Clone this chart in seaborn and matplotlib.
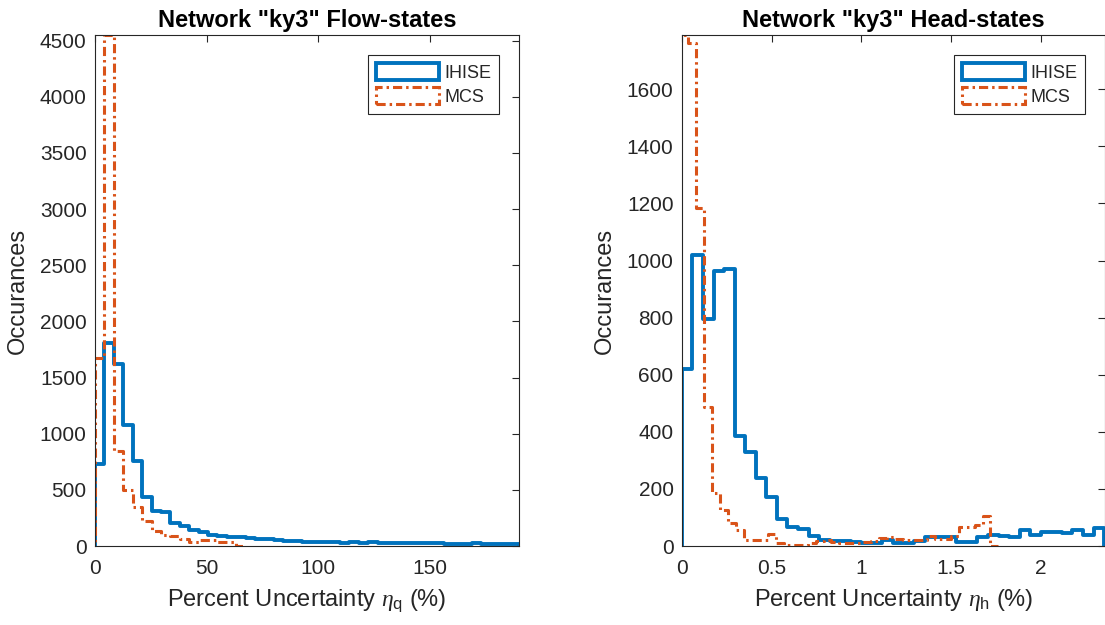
import numpy as np
import pandas as pd
import matplotlib
matplotlib.use("Agg")
import matplotlib.pyplot as plt
from matplotlib.patches import Patch
import seaborn as sns

# ---- data: histogram counts per bin ----
# Flow-states (percent uncertainty eta_q)
flow_bin_start = 0.0
flow_bin_width = 190.0 / 45
flow_ihise = [730, 1810, 1620, 1075, 760, 440, 315, 305, 205, 175,
              145, 125, 100, 85, 80, 80, 70, 62, 60, 52,
              45, 42, 38, 36, 38, 32, 30, 32, 28, 35,
              30, 28, 30, 26, 24, 25, 26, 22, 20, 22,
              25, 18, 18, 16, 14]
flow_mcs = [1675, 4550, 850, 500, 350, 225, 130, 100, 85, 65,
            40, 55, 50, 40, 35]

# Head-states (percent uncertainty eta_h)
head_ihise_start = 0.0
head_ihise_width = 2.353 / 40
head_ihise = [620, 1020, 795, 965, 972, 385, 330, 237, 170, 95,
              65, 60, 35, 22, 18, 16, 15, 10, 10, 20,
              12, 10, 18, 30, 30, 30, 14, 14, 30, 38,
              34, 32, 56, 38, 50, 50, 47, 56, 38, 62]
head_mcs_start = -0.008
head_mcs_width = 0.0443
head_mcs = [1790, 1762, 1185, 488, 185, 126, 79, 56, 21, 21,
            21, 42, 9, 5, 3, 5, 10, 18, 20, 15,
            12, 10, 12, 14, 16, 28, 30, 24, 22, 22,
            20, 34, 26, 24, 36, 66, 68, 72, 104]

labels = ["IHISE", "MCS"]
flow_xticks = [0, 50, 100, 150]
flow_yticks = list(range(0, 4501, 500))
head_xticks = [0, 0.5, 1, 1.5, 2]
head_yticks = list(range(0, 1601, 200))

BLUE = "#0072BD"
ORANGE = "#D95319"
AX_COLOR = "#262626"
DASHDOT = (0, (3.0, 1.3, 0.8, 1.3))

sns.set_theme(style="white")
plt.rcParams["font.family"] = ["Liberation Sans", "DejaVu Sans"]
plt.rcParams["mathtext.fontset"] = "custom"
plt.rcParams["mathtext.rm"] = "Liberation Sans"
plt.rcParams["mathtext.it"] = "Liberation Serif:italic"


def stairs(ax, start, width, counts, color, lw, ls):
    # pad with empty bins so the outline returns to zero at both ends
    n = len(counts)
    edges = start + width * np.arange(-1, n + 2)
    centers = 0.5 * (edges[:-1] + edges[1:])
    df = pd.DataFrame({"x": centers,
                       "w": np.array([0] + list(counts) + [0], dtype=float)})
    sns.histplot(data=df, x="x", weights="w", bins=list(edges), element="step",
                 fill=False, color=color, linewidth=lw, linestyle=ls, ax=ax)


def style_axes(ax, title, xlabel, xticks, yticks, xlim, ylim):
    ax.set_xlim(*xlim)
    ax.set_ylim(*ylim)
    ax.set_xticks(xticks)
    ax.set_yticks(yticks)
    ax.set_xticklabels([f"{t:g}" for t in xticks])
    ax.set_title(title, fontsize=17, fontweight="bold", pad=6, color="black")
    ax.set_xlabel(xlabel, fontsize=17, color=AX_COLOR, labelpad=7)
    ax.set_ylabel("Occurances", fontsize=17, color=AX_COLOR, labelpad=8)
    ax.tick_params(direction="in", length=5, width=0.8, top=True, right=True,
                   labelsize=15, colors=AX_COLOR)
    ax.tick_params(axis="x", pad=9)
    ax.tick_params(axis="y", pad=6)
    for s in ax.spines.values():
        s.set_visible(True)
        s.set_color(AX_COLOR)
        s.set_linewidth(0.8)
    handles = [
        Patch(facecolor="none", edgecolor=BLUE, linewidth=2.8, label=labels[0]),
        Patch(facecolor="none", edgecolor=ORANGE, linewidth=2.2,
              linestyle=DASHDOT, label=labels[1]),
    ]
    leg = ax.legend(handles=handles, loc="upper right", fontsize=13,
                    handlelength=3.45, handleheight=1.1, handletextpad=0.3,
                    labelspacing=0.28, borderpad=0.45, borderaxespad=1.1,
                    fancybox=False, framealpha=1, edgecolor=AX_COLOR)
    leg.get_frame().set_linewidth(0.8)


fig = plt.figure(figsize=(11.05, 6.25), dpi=100)
ax1 = fig.add_axes([95 / 1105, 79 / 625, 424 / 1105, 511 / 625])
ax2 = fig.add_axes([681.9 / 1105, 79 / 625, 423.1 / 1105, 511 / 625])

stairs(ax1, flow_bin_start, flow_bin_width, flow_ihise, BLUE, 2.8, "-")
stairs(ax1, flow_bin_start, flow_bin_width, flow_mcs, ORANGE, 2.2, DASHDOT)
style_axes(ax1, 'Network "ky3" Flow-states',
           r"Percent Uncertainty $\eta_{\mathrm{q}}$ (%)",
           flow_xticks, flow_yticks, (0, 190),
           (0, max(max(flow_ihise), max(flow_mcs))))

stairs(ax2, head_ihise_start, head_ihise_width, head_ihise, BLUE, 2.8, "-")
stairs(ax2, head_mcs_start, head_mcs_width, head_mcs, ORANGE, 2.2, DASHDOT)
style_axes(ax2, 'Network "ky3" Head-states',
           r"Percent Uncertainty $\eta_{\mathrm{h}}$ (%)",
           head_xticks, head_yticks, (0, 2.358),
           (0, max(max(head_ihise), max(head_mcs))))

fig.savefig("out.png", dpi=100)
